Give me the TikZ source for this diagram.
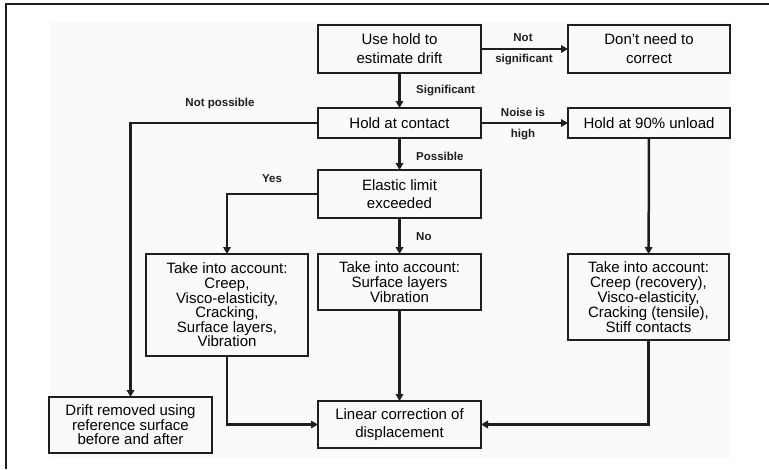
\documentclass[tikz,border=0pt]{standalone}
\usepackage{fontspec}
\setmainfont{Liberation Sans}
\usepackage{xcolor}
\usetikzlibrary{arrows.meta}
\definecolor{panel}{RGB}{250,250,250}
\definecolor{ink}{RGB}{30,30,30}

\begin{document}
\begin{tikzpicture}[x=1pt,y=-1pt,
  box/.style={draw=ink, line width=1.9pt, inner sep=0pt, outer sep=0pt, align=center,
              font=\fontsize{15}{19}\selectfont},
  lbl/.style={font=\fontsize{11.5}{14}\selectfont\bfseries, text=ink, inner sep=0pt},
  conn/.style={draw=ink, line width=2.5pt, -{Triangle[length=7pt,width=7.5pt]}}]
  \useasboundingbox (0,0) rectangle (769,469);
  \fill[panel] (49,22) rectangle (731,458);
  \draw[ink, line width=1.8pt] (6,469) -- (6,4) -- (769,4);

  \node[box, minimum width=163pt, minimum height=48pt] (use) at (399.5,49) {Use hold to\\estimate drift};
  \node[box, minimum width=162pt, minimum height=48pt] (dont) at (649,49) {Don't need to\\correct};
  \node[box, minimum width=163pt, minimum height=30pt] (contact) at (399.5,123) {Hold at contact};
  \node[box, minimum width=162pt, minimum height=30pt] (unload) at (649,123) {Hold at 90\% unload};
  \node[box, minimum width=163pt, minimum height=48pt, font=\fontsize{15}{18}\selectfont] (elastic) at (399.5,194) {Elastic limit\\exceeded};
  \node[box, minimum width=162pt, minimum height=102pt, font=\fontsize{15}{14.6}\selectfont] (takeA) at (227,305) {Take into account:\\Creep,\\Visco-elasticity,\\Cracking,\\Surface layers,\\Vibration};
  \node[box, minimum width=163pt, minimum height=56pt, font=\fontsize{15}{15}\selectfont] (takeB) at (399.5,282) {Take into account:\\Surface layers\\Vibration};
  \node[box, minimum width=161pt, minimum height=86pt, font=\fontsize{15}{15}\selectfont] (takeC) at (648.5,297) {Take into account:\\Creep (recovery),\\Visco-elasticity,\\Cracking (tensile),\\Stiff contacts};
  \node[box, minimum width=163pt, minimum height=56pt, font=\fontsize{15}{14.5}\selectfont] (drift) at (130.5,425) {Drift removed using\\reference surface\\before and after};
  \node[box, minimum width=163pt, minimum height=47pt, font=\fontsize{15}{18}\selectfont] (linear) at (399.5,424.5) {Linear correction of\\displacement};

  \draw[conn] (use) -- (dont);
  \draw[conn] (use) -- (contact);
  \draw[conn] (contact) -- (unload);
  \draw[conn] (contact.west) -| (drift.north);
  \draw[conn] (contact) -- (elastic);
  \draw[conn] (elastic.west) -| (takeA.north);
  \draw[conn] (elastic) -- (takeB);
  \draw[conn] (unload) -- (takeC);
  \draw[conn] (takeB) -- (linear);
  \draw[conn] (takeA.south) |- (linear.west);
  \draw[conn] (takeC.south) |- (linear.east);

  \node[lbl] (notsig1) at (523,38) {Not};
  \node[lbl] (notsig2) at (524,60) {significant};
  \node[lbl, anchor=west] (sig) at (416,91) {Significant};
  \node[lbl] (noise1) at (523,112) {Noise is};
  \node[lbl] (noise2) at (523,135) {high};
  \node[lbl] (notposs) at (220,104) {Not possible};
  \node[lbl, anchor=west] (poss) at (416,156) {Possible};
  \node[lbl] (yes) at (272,179) {Yes};
  \node[lbl, anchor=west] (no) at (416,237) {No};
\end{tikzpicture}
\end{document}
